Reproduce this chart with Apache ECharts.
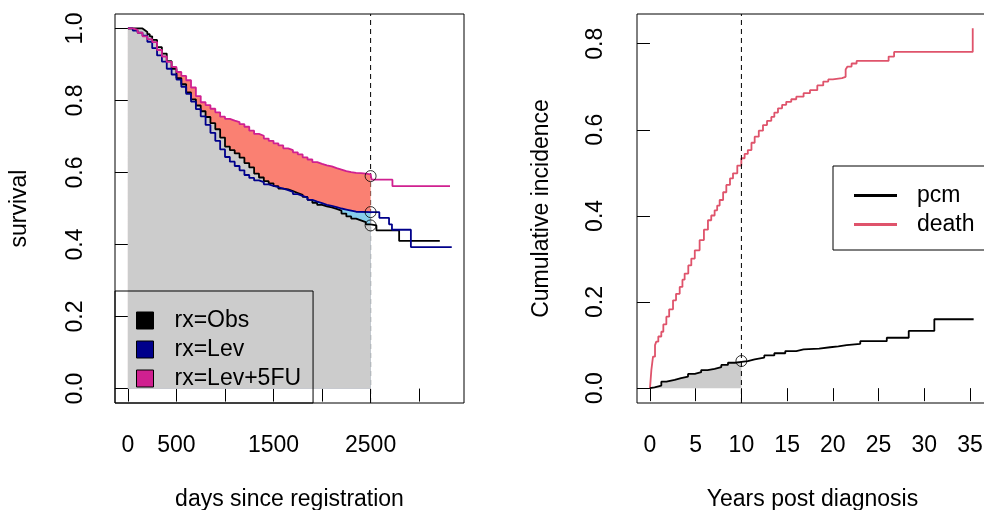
<!DOCTYPE html>
<html><head><meta charset="utf-8">
<script src="https://cdn.jsdelivr.net/npm/echarts@6/dist/echarts.min.js"></script>
<style>html,body{margin:0;padding:0;background:#fff}#c{width:984px;height:510px}</style>
</head><body><div id="c"></div>
<script>
// ---------- Left panel: Kaplan-Meier survival (days) ----------
const tObs = [0,120,150,175,200,225,250,300,350,400,450,500,550,600,650,700,750,800,850,900,950,1000,1050,1100,1150,1200,1250,1300,1350,1400,1450,1500,1550,1600,1650,1700,1750,1800,1850,1900,1950,2000,2050,2100,2150,2200,2250,2300,2350,2400,2450,2500,2560,2794,3213];
const sObs = [1,1,0.995,0.990,0.984,0.978,0.968,0.948,0.930,0.909,0.888,0.862,0.845,0.822,0.803,0.786,0.770,0.754,0.737,0.720,0.697,0.672,0.662,0.653,0.641,0.626,0.614,0.597,0.586,0.576,0.570,0.562,0.555,0.553,0.548,0.543,0.538,0.532,0.524,0.516,0.510,0.506,0.503,0.499,0.494,0.486,0.478,0.472,0.467,0.462,0.456,0.453,0.439,0.410,0.410];

const tLev = [0,50,100,150,200,250,300,350,400,450,500,550,600,650,700,750,800,850,900,950,1000,1050,1100,1150,1200,1250,1300,1350,1400,1450,1500,1550,1600,1650,1700,1750,1800,1850,1900,1950,2000,2050,2100,2150,2200,2250,2300,2350,2500,2590,2690,2720,2915,3336];
const sLev = [1,0.994,0.988,0.980,0.963,0.945,0.925,0.908,0.888,0.872,0.858,0.838,0.818,0.797,0.776,0.756,0.732,0.710,0.688,0.664,0.643,0.630,0.618,0.606,0.593,0.585,0.578,0.573,0.567,0.563,0.559,0.555,0.551,0.546,0.540,0.535,0.530,0.524,0.519,0.515,0.510,0.507,0.504,0.500,0.497,0.494,0.491,0.490,0.490,0.474,0.456,0.441,0.393,0.393];

const tL5 = [0,50,100,150,200,250,300,350,400,450,500,550,600,650,700,750,800,850,900,950,1000,1050,1100,1150,1200,1250,1300,1350,1400,1450,1500,1550,1600,1650,1700,1750,1800,1850,1900,1950,2000,2050,2100,2150,2200,2250,2300,2350,2400,2450,2500,2510,2725,3318];
const sL5 = [1,0.996,0.988,0.978,0.970,0.962,0.940,0.922,0.907,0.893,0.879,0.868,0.856,0.836,0.812,0.795,0.787,0.777,0.767,0.755,0.749,0.744,0.740,0.734,0.727,0.716,0.707,0.702,0.694,0.688,0.681,0.675,0.667,0.662,0.656,0.650,0.642,0.636,0.629,0.624,0.620,0.617,0.612,0.608,0.604,0.601,0.599,0.598,0.597,0.595,0.590,0.580,0.562,0.562];

const tauDays = 2500;
const xTicksLeft = [0,500,1000,1500,2000,2500,3000];
const xLabelsLeft = [0,500,1500,2500];
const yTicksLeft = [0,0.2,0.4,0.6,0.8,1.0];
const groupNames = ['rx=Obs','rx=Lev','rx=Lev+5FU'];

// ---------- Right panel: cumulative incidence (years) ----------
const tPcm = [0,0.07,0.5,1.24,1.8,2.7,3.4,4.16,4.9,5.6,6.3,7.07,7.8,8.53,9.3,10.0,10.7,11.45,12.5,13.6,14.8,16.0,16.8,18.5,19.7,20.6,21.5,23.0,25.9,28.3,31.1,35.4];
const cPcm = [0,0.002,0.006,0.015,0.019,0.023,0.027,0.033,0.037,0.042,0.045,0.049,0.054,0.059,0.061,0.063,0.067,0.071,0.076,0.081,0.086,0.090,0.092,0.095,0.097,0.100,0.103,0.109,0.117,0.133,0.160,0.160];

const tDeath = [0,0.07,0.15,0.33,0.55,0.69,0.91,1.24,1.46,1.79,2.1,2.52,2.85,3.25,3.55,3.79,4.19,4.52,4.9,5.43,5.9,6.34,6.7,7.07,7.35,7.62,8.0,8.35,8.75,9.08,9.55,9.99,10.35,10.7,11.1,11.45,11.9,12.36,12.8,13.27,13.6,14.0,14.45,14.9,15.45,16.0,16.8,17.5,18.3,18.95,19.5,20.0,21.0,21.4,21.6,22.05,22.6,26.1,26.7,35.3];
const cDeath = [0,0.003,0.042,0.073,0.100,0.108,0.120,0.131,0.148,0.166,0.183,0.204,0.219,0.235,0.252,0.266,0.285,0.301,0.320,0.344,0.368,0.390,0.401,0.413,0.424,0.437,0.455,0.472,0.487,0.499,0.517,0.534,0.544,0.553,0.570,0.584,0.598,0.611,0.621,0.630,0.640,0.650,0.658,0.665,0.671,0.677,0.685,0.692,0.703,0.712,0.717,0.720,0.723,0.740,0.747,0.754,0.760,0.770,0.781,0.836];

const tauYears = 10;
const xTicksRight = [0,5,10,15,20,25,30,35];
const yTicksRight = [0,0.2,0.4,0.6,0.8];
const ciNames = ['pcm','death'];

// ---------- helpers ----------
function pairs(ts, vs){ return ts.map((t,i)=>[t, vs[i]]); }
function stepAt(ts, vs, tau){ let v = vs[0]; for (let i=0;i<ts.length;i++){ if (ts[i] <= tau) v = vs[i]; } return v; }
function upTo(ts, vs, tau){ const out=[]; for (let i=0;i<ts.length;i++){ if (ts[i] < tau) out.push([ts[i], vs[i]]); } out.push([tau, stepAt(ts,vs,tau)]); return out; }

const FONT = '"Liberation Sans", Arial, Helvetica, sans-serif';
const FS = 23;
const COL = { obs:'#000000', lev:'#00008B', l5:'#D02090', salmon:'#FA8072', sky:'#87CEEB', gray:'#CCCCCC', death:'#DF536B' };

const XL = [-133.2, 3462.2], YL = [-0.04, 1.04];
const XR = [-1.42, 36.97], YR = [-0.0345, 0.869];

function xAxisCfg(grid, rng, ticks, labels, name){
  return { gridIndex:grid, type:'value', min:rng[0], max:rng[1],
    axisLine:{show:false}, splitLine:{show:false},
    axisTick:{show:true, length:13, customValues:ticks, lineStyle:{color:'#000', width:1}},
    axisLabel:{customValues:labels, fontSize:FS, fontFamily:FONT, color:'#000', margin:31,
      formatter:(v)=>String(v)},
    name:name, nameLocation:'middle', nameGap:85,
    nameTextStyle:{fontSize:FS, fontFamily:FONT, color:'#000'} };
}
function yAxisCfg(grid, rng, ticks, name, margin){
  return { gridIndex:grid, type:'value', min:rng[0], max:rng[1],
    axisLine:{show:false}, splitLine:{show:false},
    axisTick:{show:true, length:13, customValues:ticks, lineStyle:{color:'#000', width:1}},
    axisLabel:{customValues:ticks, rotate:90, fontSize:FS, fontFamily:FONT, color:'#000', margin:margin,
      formatter:(v)=>Number(v).toFixed(1)},
    name:name, nameLocation:'middle', nameGap:84, nameRotate:90,
    nameTextStyle:{fontSize:FS, fontFamily:FONT, color:'#000'} };
}

const stepLine = (name, data, color, xi, z) => ({ name, type:'line', step:'end', data, xAxisIndex:xi, yAxisIndex:xi,
  symbol:'none', showSymbol:false, z, lineStyle:{color, width:1.8}, itemStyle:{color}, silent:true });
const fillArea = (name, data, color, xi) => ({ name, type:'line', step:'end', data, xAxisIndex:xi, yAxisIndex:xi,
  symbol:'none', showSymbol:false, z:2, lineStyle:{width:0, opacity:0}, areaStyle:{color, opacity:1}, silent:true });

const circlesLeft = [stepAt(tL5,sL5,tauDays), stepAt(tLev,sLev,tauDays), stepAt(tObs,sObs,tauDays)].map(v=>[tauDays, v]);
const circlesRight = [[tauYears, stepAt(tPcm,cPcm,tauYears)]];

const option = {
  animation:false,
  backgroundColor:'#fff',
  grid:[
    {left:115, top:14, width:349, height:389, show:true, borderColor:'#000', borderWidth:1, backgroundColor:'transparent', containLabel:false, outerBoundsMode:'none'},
    {left:637, top:14, width:351, height:389, show:true, borderColor:'#000', borderWidth:1, backgroundColor:'transparent', containLabel:false, outerBoundsMode:'none'}
  ],
  xAxis:[ xAxisCfg(0, XL, xTicksLeft, xLabelsLeft, 'days since registration'),
          xAxisCfg(1, XR, xTicksRight, xTicksRight, 'Years post diagnosis') ],
  yAxis:[ yAxisCfg(0, YL, yTicksLeft, 'survival', 28),
          yAxisCfg(1, YR, yTicksRight, 'Cumulative incidence', 30) ],
  legend:[
    { left:115, top:291, orient:'vertical', selectedMode:false,
      itemWidth:17, itemHeight:17, itemGap:6, padding:[18,12,13,21],
      borderColor:'#000', borderWidth:1, borderRadius:0, backgroundColor:'transparent',
      textStyle:{fontSize:FS, fontFamily:FONT, color:'#000', padding:[0,0,0,16]},
      data:[
        {name:groupNames[0], icon:'rect', itemStyle:{color:COL.obs, borderColor:'#000', borderWidth:1}},
        {name:groupNames[1], icon:'rect', itemStyle:{color:COL.lev, borderColor:'#000', borderWidth:1}},
        {name:groupNames[2], icon:'rect', itemStyle:{color:COL.l5, borderColor:'#000', borderWidth:1}}
      ] },
    { left:833, top:166, orient:'vertical', selectedMode:false,
      itemWidth:43, itemHeight:3, itemGap:6, padding:[18,60,14,21],
      borderColor:'#000', borderWidth:1, borderRadius:0, backgroundColor:'#fff',
      textStyle:{fontSize:FS, fontFamily:FONT, color:'#000', padding:[0,0,0,15]},
      data:[
        {name:ciNames[0], icon:'path://M0,0L43,0L43,3L0,3Z', itemStyle:{color:COL.obs, borderWidth:0}},
        {name:ciNames[1], icon:'path://M0,0L43,0L43,3L0,3Z', itemStyle:{color:COL.death, borderWidth:0}}
      ] }
  ],
  series:[
    // left panel
    { name:'tauL', type:'line', data:[[tauDays, YL[0]],[tauDays, YL[1]]], xAxisIndex:0, yAxisIndex:0, symbol:'none', z:1,
      lineStyle:{color:'#000', width:1, type:[5,4]}, silent:true },
    fillArea('fillL5', upTo(tL5,sL5,tauDays), COL.salmon, 0),
    fillArea('fillLev', upTo(tLev,sLev,tauDays), COL.sky, 0),
    fillArea('fillObs', upTo(tObs,sObs,tauDays), COL.gray, 0),
    stepLine(groupNames[0], pairs(tObs,sObs), COL.obs, 0, 3),
    stepLine(groupNames[1], pairs(tLev,sLev), COL.lev, 0, 3),
    stepLine(groupNames[2], pairs(tL5,sL5), COL.l5, 0, 3),
    { name:'circL', type:'scatter', data:circlesLeft, xAxisIndex:0, yAxisIndex:0, symbol:'circle', symbolSize:11, z:4,
      itemStyle:{color:'rgba(0,0,0,0)', borderColor:'#000', borderWidth:1}, silent:true },
    // right panel
    fillArea('fillPcm', upTo(tPcm,cPcm,tauYears), COL.gray, 1),
    stepLine(ciNames[1], pairs(tDeath,cDeath), COL.death, 1, 3),
    stepLine(ciNames[0], pairs(tPcm,cPcm), COL.obs, 1, 3),
    { name:'tauR', type:'line', data:[[tauYears, YR[0]],[tauYears, YR[1]]], xAxisIndex:1, yAxisIndex:1, symbol:'none', z:5,
      lineStyle:{color:'#000', width:1, type:[5,4]}, silent:true },
    { name:'circR', type:'scatter', data:circlesRight, xAxisIndex:1, yAxisIndex:1, symbol:'circle', symbolSize:11, z:4,
      itemStyle:{color:'rgba(0,0,0,0)', borderColor:'#000', borderWidth:1}, silent:true }
  ]
};
const chart = echarts.init(document.getElementById('c'), null, {renderer:'canvas'});
chart.setOption(option);
</script>
</body></html>
